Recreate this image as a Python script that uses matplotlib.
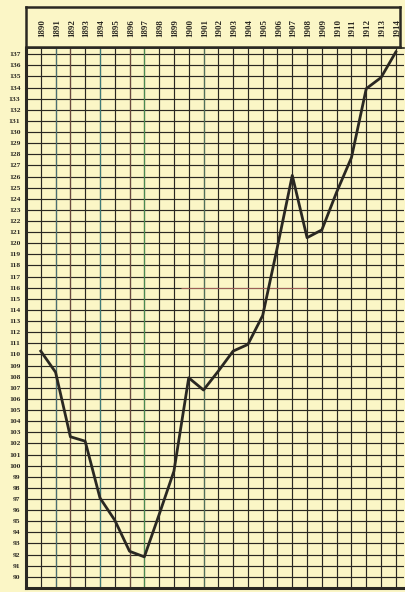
import matplotlib.pyplot as plt

# index values, one per year
years = list(range(1890, 1915))
values = [110.3, 108.4, 102.6, 102.2, 97.1, 95.1, 92.3, 91.8, 95.6, 99.5,
          107.9, 106.8, 108.5, 110.3, 110.9, 113.5, 119.7, 126.1, 120.5, 121.2,
          124.6, 127.7, 133.9, 134.9, 137.2]
y_ticks = list(range(90, 138))
year_labels = [str(y) for y in years]

paper = "#fbf6c6"
ink = "#2a2822"

fig = plt.figure(figsize=(4.06, 5.92), dpi=100, facecolor=paper)

# main grid area
ax = fig.add_axes([0.064, 0.0068, 0.931, 0.912], facecolor=paper)
ax.set_xlim(1889, 1914.55)
ax.set_ylim(89.0, 137.55)

# hand-ruled grid: one line per year and per index point
for yr in range(1889, 1915):
    ax.axvline(yr, color=ink, lw=0.85, zorder=1)
for v in y_ticks:
    ax.axhline(v, color=ink, lw=0.85, zorder=1)

# a few lines in the print came out tinted
tinted = {1891: "#4a6e70", 1892: "#6a4a3e", 1894: "#3f7a78", 1896: "#6a4a3e",
          1897: "#4a8a50", 1901: "#50705a"}
for yr, c in tinted.items():
    ax.axvline(yr, color=c, lw=0.85, zorder=1.5)
ax.hlines(116, 1899.5, 1908, color="#a06058", lw=0.7, zorder=1.5)

ax.plot(years, values, color=ink, lw=2.0, solid_joinstyle="round", zorder=3)

ax.set_yticks(y_ticks)
ax.set_yticklabels([str(v) for v in y_ticks], fontsize=5.4, fontweight="bold",
                   family="Liberation Serif", color=ink)
ax.tick_params(axis="y", length=0, pad=4)
ax.set_xticks([])
for side in ["left", "bottom"]:
    ax.spines[side].set_linewidth(2.2)
    ax.spines[side].set_color(ink)
ax.spines["top"].set_linewidth(1.2)
ax.spines["top"].set_color(ink)
ax.spines["right"].set_visible(False)

# header box with the rotated year labels
hx = fig.add_axes([0.064, 0.9206, 0.921, 0.0676], facecolor=paper)
hx.set_xlim(1889, 1914.29)
hx.set_ylim(0, 1)
for yr, lab in zip(years, year_labels):
    hx.text(yr + 0.1, 0.47, lab, rotation=90, ha="center", va="center",
            fontsize=6.4, fontweight="bold", family="Liberation Serif", color=ink)
hx.set_xticks([])
hx.set_yticks([])
for s in hx.spines.values():
    s.set_linewidth(1.8)
    s.set_color(ink)

fig.savefig("out.png", dpi=100, facecolor=paper)
